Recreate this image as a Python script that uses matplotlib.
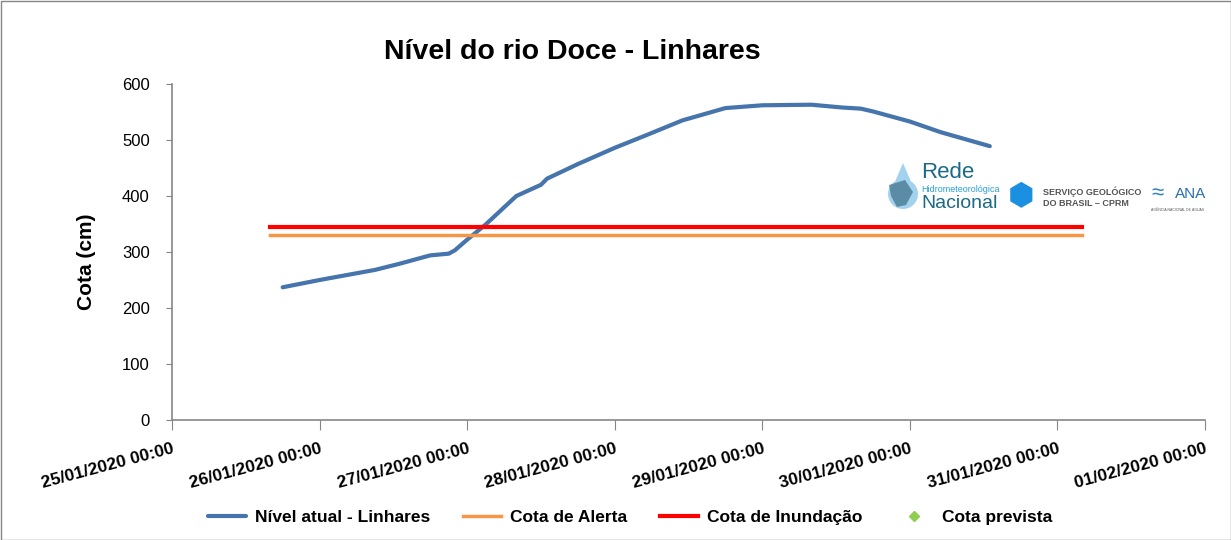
import pandas as pd
import numpy as np
import matplotlib.pyplot as plt
from matplotlib.patches import Rectangle, Polygon

plt.rcParams['font.family'] = ['Liberation Sans', 'DejaVu Sans']

# nivel observado (cm)
times = ["2020-01-25 18:00", "2020-01-26 00:00", "2020-01-26 09:00", "2020-01-26 13:00",
         "2020-01-26 18:00", "2020-01-26 21:00", "2020-01-26 22:00", "2020-01-27 00:00",
         "2020-01-27 03:00", "2020-01-27 08:00", "2020-01-27 12:00", "2020-01-27 13:00",
         "2020-01-27 18:00", "2020-01-28 00:00", "2020-01-28 05:00", "2020-01-28 11:00",
         "2020-01-28 18:00", "2020-01-29 00:00", "2020-01-29 08:00", "2020-01-29 13:00",
         "2020-01-29 16:00", "2020-01-29 18:00", "2020-01-30 00:00", "2020-01-30 05:00",
         "2020-01-30 13:00"]
nivel = [237, 250, 268, 279, 294, 297, 303, 322, 349, 400, 420, 431, 457, 486, 508,
         535, 557, 562, 563, 558, 556, 551, 533, 514, 489]

ref_times = ["2020-01-25 16:00", "2020-01-31 04:00"]
cota_alerta = [330, 330]
cota_inundacao = [345, 345]

xticks = pd.date_range("2020-01-25", "2020-02-01", freq="D")
yticks = [0, 100, 200, 300, 400, 500, 600]

t = pd.to_datetime(times)
rt = pd.to_datetime(ref_times)

W, H = 1231, 540
fig = plt.figure(figsize=(W / 100, H / 100), dpi=100)
ax = fig.add_axes([172/W, 120/H, (1205-172)/W, (420-84)/H])

ax.plot(t, nivel, color='#4674ac', lw=3, label='Nível atual - Linhares', solid_capstyle='round')
ax.plot(rt, cota_alerta, color='#f79646', lw=2.5, label='Cota de Alerta')
ax.plot(rt, cota_inundacao, color='#ff0000', lw=3, label='Cota de Inundação')
ax.plot([], [], ls='none', marker='D', ms=5.5, color='#8fce4f', label='Cota prevista')

ax.set_xlim(xticks[0], xticks[-1])
ax.set_ylim(0, 600)
ax.set_yticks(yticks)
ax.set_xticks(xticks)
ax.set_xticklabels([d.strftime('%d/%m/%Y %H:%M') for d in xticks],
                   rotation=15, ha='right', rotation_mode='anchor',
                   fontsize=12.5, fontweight='bold')
ax.tick_params(axis='y', labelsize=12, length=4, color='#868686', pad=12)
ax.tick_params(axis='x', length=7, color='#868686', pad=8)

for s in ['top', 'right']:
    ax.spines[s].set_visible(False)
for s in ['left', 'bottom']:
    ax.spines[s].set_color('#868686')
    ax.spines[s].set_linewidth(1.2)

ax.set_ylabel('Cota (cm)', fontsize=15, fontweight='bold')
ax.yaxis.set_label_coords((96 - 172) / (1205 - 172), (420 - 262) / 336)
fig.text(572/W, 1 - 52/H, 'Nível do rio Doce - Linhares', fontsize=20.5,
         fontweight='bold', ha='center', va='center')

fig.legend(loc='center', bbox_to_anchor=(630/W, 1 - 517/H), ncol=4, frameon=False,
           prop={'weight': 'bold', 'size': 12.5}, handlelength=2.2,
           handletextpad=0.5, columnspacing=1.9)

# logos (aproximados)
drop = [(903 + 15 * np.sin(a), 194 - 15 * np.cos(a)) for a in np.linspace(0.55, 2 * np.pi - 0.55, 40)]
drop = [(903, 163)] + drop
fig.patches.append(Polygon([(x / W, 1 - y / H) for x, y in drop], closed=True,
                           transform=fig.transFigure, facecolor='#7cc0e8', edgecolor='none', alpha=0.7))
fig.patches.append(Polygon([(x / W, 1 - y / H) for x, y in
                            [(889, 185), (905, 180), (913, 192), (906, 205), (897, 207), (891, 196)]],
                           closed=True, transform=fig.transFigure, facecolor='#3d6f86',
                           edgecolor='none', alpha=0.7))
fig.text(921/W, 1 - 172/H, 'Rede', fontsize=16, color='#1d6a86', va='center',
         family=['Liberation Sans Narrow', 'Liberation Sans'])
fig.text(921/W, 1 - 189/H, 'Hidrometeorológica', fontsize=6.5, color='#2a9fd6', va='center',
         family=['Liberation Sans Narrow', 'Liberation Sans'])
fig.text(921/W, 1 - 203/H, 'Nacional', fontsize=14, color='#1d6a86', va='center',
         family=['Liberation Sans Narrow', 'Liberation Sans'])
fig.text(1021/W, 1 - 197/H, '⬢', fontsize=22, color='#1b8fe0', ha='center', va='center',
         family=['DejaVu Sans'])
fig.text(1043/W, 1 - 192/H, 'SERVIÇO GEOLÓGICO', fontsize=6.5, fontweight='bold', color='#555555', va='center')
fig.text(1043/W, 1 - 204/H, 'DO BRASIL – CPRM', fontsize=6.5, fontweight='bold', color='#555555', va='center')
fig.text(1158/W, 1 - 194/H, '≈', fontsize=16, color='#2a7fc0', ha='center', va='center')
fig.text(1175/W, 1 - 194/H, 'ANA', fontsize=11, color='#2a6fb0', va='center')
fig.text(1178/W, 1 - 210/H, 'AGÊNCIA NACIONAL DE ÁGUAS', fontsize=2.5, color='#555555',
         ha='center', va='center')

fig.patches.append(Rectangle((0.5/W, 0.5/H), 1 - 1/W, 1 - 1/H, transform=fig.transFigure,
                             fill=False, edgecolor='#868686', lw=1))

fig.savefig('out.png', dpi=100)
